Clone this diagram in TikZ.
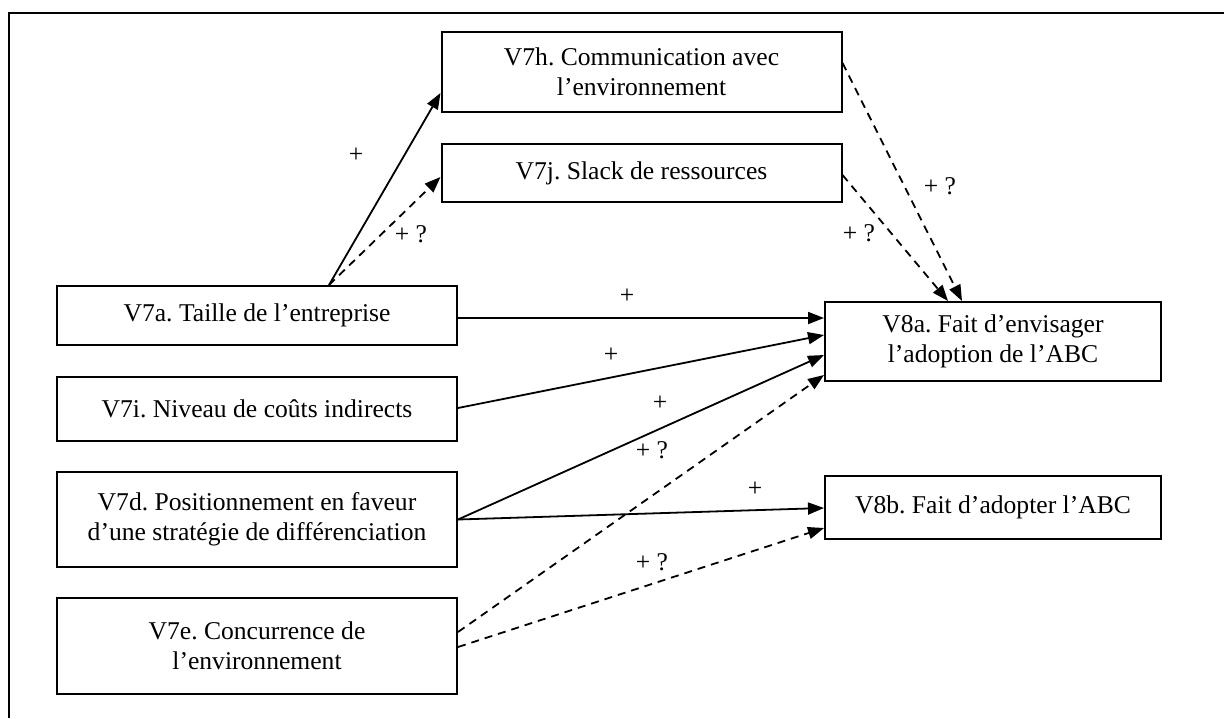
\documentclass[tikz,border=0pt]{standalone}
\usepackage{fontspec}
\setmainfont{Liberation Serif}
\usetikzlibrary{arrows.meta,calc}
\frenchspacing
\begin{document}
\begin{tikzpicture}[
        x=0.5pt, y=-0.5pt,
        box/.style={draw, rectangle, line width=1pt, align=center, inner sep=0pt,
            minimum width=200pt, font=\fontsize{12.8}{15}\selectfont},
        link/.style={line width=0.9pt, -{Triangle[length=8pt,width=6pt]}},
        hypo/.style={link, dash pattern=on 4pt off 3pt},
        sign/.style={inner sep=0pt, font=\fontsize{12.8}{15}\selectfont}
    ]
    \useasboundingbox (0,0) rectangle (1224,718);

    % Frame
    \draw[line width=1pt] (1224,13) -- (8.5,13) -- (8.5,718);

    % Top boxes
    \node[box, minimum height=40pt] (v7h) at (641.5,72) {V7h. Communication avec\\l’environnement};
    \node[box, minimum height=29pt] (v7j) at (641.5,173) {V7j. Slack de ressources};

    % Left boxes
    \node[box, minimum height=29.5pt] (v7a) at (257,315.5) {V7a. Taille de l’entreprise};
    \node[box, minimum height=32pt] (v7i) at (257,409) {V7i. Niveau de coûts indirects};
    \node[box, minimum height=47.5pt] (v7d) at (257,519.5) {V7d. Positionnement en faveur\\d’une stratégie de différenciation};
    \node[box, minimum height=48pt] (v7e) at (257,646) {V7e. Concurrence de\\l’environnement};

    % Right boxes
    \node[box, minimum width=168pt, minimum height=39.5pt] (v8a) at (993,341.5) {V8a. Fait d’envisager\\l’adoption de l’ABC};
    \node[box, minimum width=168pt, minimum height=31.5pt] (v8b) at (993,507.5) {V8b. Fait d’adopter l’ABC};

    % Links
    \draw[link] ($(v7a.north)+(72,0)$) -- ($(v7h.west)+(0,21)$);
    \draw[hypo] ($(v7a.north)+(72,0)$) -- ($(v7j.west)+(0,4)$);
    \draw[hypo] ($(v7h.east)+(0,-9)$) -- ($(v8a.north)+(-31,0)$);
    \draw[hypo] ($(v7j.east)+(0,2)$) -- ($(v8a.north)+(-45,0)$);
    \draw[link] ($(v7a.east)+(0,2.5)$) -- ($(v8a.west)+(0,-23.5)$);
    \draw[link] ($(v7i.east)+(0,-1)$) -- ($(v8a.west)+(0,-6.5)$);
    \draw[link] (v7d.east) -- ($(v8a.west)+(0,13.5)$);
    \draw[link] (v7d.east) -- ($(v8b.west)+(0,0.5)$);
    \draw[hypo] ($(v7e.east)+(0,-14)$) -- ($(v8a.west)+(0,33.5)$);
    \draw[hypo] ($(v7e.east)+(0,1)$) -- ($(v8b.west)+(0,20.5)$);

    % Signs
    \node[sign] (s1) at (356,155) {+};
    \node[sign] (s2) at (411,234) {+ ?};
    \node[sign] (s3) at (940,186) {+ ?};
    \node[sign] (s4) at (859,233) {+ ?};
    \node[sign] (s5) at (627,296) {+};
    \node[sign] (s6) at (611,355) {+};
    \node[sign] (s7) at (660,403) {+};
    \node[sign] (s8) at (652,450) {+ ?};
    \node[sign] (s9) at (755,489) {+};
    \node[sign] (s10) at (652,562) {+ ?};

\end{tikzpicture}
\end{document}
